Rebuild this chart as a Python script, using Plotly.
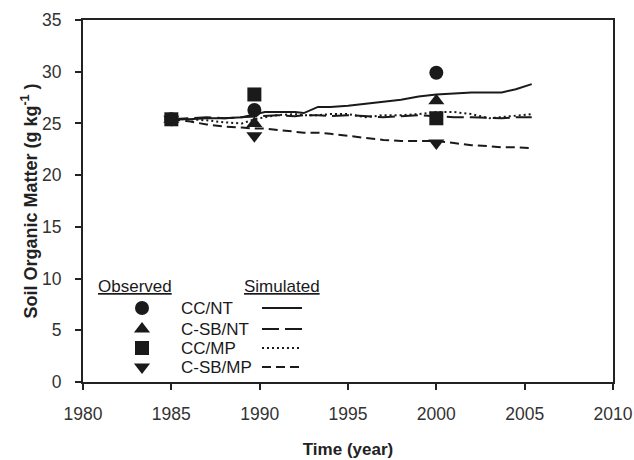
import plotly.graph_objects as go

# Observed data
obs_years = [1985, 1989.7, 2000]
obs_cc_nt = [25.4, 26.3, 29.9]
obs_csb_nt = [25.4, 25.0, 27.2]
obs_cc_mp = [25.4, 27.8, 25.5]
obs_csb_mp = [25.4, 23.8, 23.1]

# Simulated data
sim_years = [1985, 1986, 1987, 1988, 1989, 1989.7, 1990.3, 1991, 1992, 1992.5, 1993.3,
             1994, 1995, 1996, 1997, 1998, 1999, 2000, 2001, 2002, 2003, 2003.7, 2004.5, 2005.4]
sim_cc_nt = [25.4, 25.4, 25.5, 25.5, 25.6, 25.9, 26.1, 26.1, 26.1, 26.0, 26.6,
             26.6, 26.7, 26.9, 27.1, 27.3, 27.6, 27.8, 27.9, 28.0, 28.0, 28.0, 28.3, 28.8]
sim_csb_nt = [25.4, 25.5, 25.6, 25.5, 25.6, 25.7, 25.7, 25.8, 25.7, 25.8, 25.8,
              25.7, 25.8, 25.7, 25.6, 25.7, 25.8, 25.7, 25.6, 25.6, 25.5, 25.5, 25.6, 25.6]
sim_cc_mp = [25.4, 25.4, 25.3, 25.1, 25.0, 25.4, 25.6, 25.8, 25.9, 25.8, 25.8,
             25.9, 25.9, 25.6, 25.8, 25.8, 25.9, 26.1, 26.1, 25.9, 25.5, 25.6, 25.7, 25.9]
sim_csb_mp = [25.4, 25.2, 24.9, 24.7, 24.6, 24.5, 24.5, 24.4, 24.2, 24.1, 24.1,
              24.0, 23.8, 23.6, 23.4, 23.3, 23.3, 23.3, 23.1, 22.9, 22.8, 22.7, 22.7, 22.6]

names = ["CC/NT", "C-SB/NT", "CC/MP", "C-SB/MP"]
symbols = ["circle", "triangle-up", "square", "triangle-down"]
dashes = ["solid", "17px,6px", "2px,3px", "9px,5px"]
obs_sets = [obs_cc_nt, obs_csb_nt, obs_cc_mp, obs_csb_mp]
sim_sets = [sim_cc_nt, sim_csb_nt, sim_cc_mp, sim_csb_mp]

INK = "#1a1a1a"
FONT = "Liberation Sans, Arial"
fig = go.Figure()

for nm, d, ys in zip(names, dashes, sim_sets):
    fig.add_trace(go.Scatter(x=sim_years, y=ys, mode="lines", name=nm + " sim",
                             line=dict(color=INK, width=2, dash=d), showlegend=False))
for nm, s, ys in zip(names, symbols, obs_sets):
    fig.add_trace(go.Scatter(x=obs_years, y=ys, mode="markers", name=nm + " obs",
                             marker=dict(symbol=s, size=14, color=INK), showlegend=False))

# Custom legend (plot-fraction overlay axes)
L, R, T, B = 83, 613, 20, 382
def px(x):
    return (x - L) / (R - L)
def py(y):
    return (B - y) / (B - T)

rows_y = [308, 329, 348, 367]
for i, (nm, s, d) in enumerate(zip(names, symbols, dashes)):
    yy = py(rows_y[i])
    fig.add_trace(go.Scatter(x=[px(142)], y=[yy], mode="markers", xaxis="x2", yaxis="y2",
                             marker=dict(symbol=s, size=14, color=INK), showlegend=False,
                             hoverinfo="skip"))
    fig.add_trace(go.Scatter(x=[px(262), px(302)], y=[yy, yy], mode="lines", xaxis="x2", yaxis="y2",
                             line=dict(color=INK, width=2, dash=d), showlegend=False,
                             hoverinfo="skip"))
    fig.add_annotation(x=px(179), y=yy, xref="paper", yref="paper", text=nm,
                       showarrow=False, xanchor="left", yanchor="middle",
                       font=dict(family=FONT, size=17, color=INK))

fig.add_annotation(x=px(96), y=py(286), xref="paper", yref="paper", text="<u>Observed</u>",
                   showarrow=False, xanchor="left", yanchor="middle",
                   font=dict(family=FONT, size=17, color=INK))
fig.add_annotation(x=px(242), y=py(286), xref="paper", yref="paper", text="<u>Simulated</u>",
                   showarrow=False, xanchor="left", yanchor="middle",
                   font=dict(family=FONT, size=17, color=INK))

axis_common = dict(showgrid=False, zeroline=False, showline=True, linecolor="#222",
                   linewidth=2, ticks="outside", ticklen=6, tickwidth=1.5, tickcolor="#222",
                   mirror=True, automargin=False,
                   tickfont=dict(family=FONT, size=17.5, color="#333"))

fig.update_layout(
    width=634, height=460,
    margin=dict(l=L, r=634 - R, t=T, b=460 - B),
    paper_bgcolor="white", plot_bgcolor="white",
    xaxis=dict(range=[1980, 2010], dtick=5, tick0=1980, ticklabelstandoff=9,
               title=dict(text="<b>Time (year)</b>", standoff=20,
                          font=dict(family=FONT, size=17, color="#222")),
               **axis_common),
    yaxis=dict(range=[0, 35], dtick=5, tick0=0, ticklabelstandoff=10,
               title=dict(text="<b>Soil Organic Matter (g kg<sup>-1</sup> )</b>", standoff=0,
                          font=dict(family=FONT, size=18, color="#222")),
               **axis_common),
    xaxis2=dict(range=[0, 1], overlaying="x", visible=False, fixedrange=True),
    yaxis2=dict(range=[0, 1], overlaying="y", visible=False, fixedrange=True),
)

fig.write_html("out.html")
